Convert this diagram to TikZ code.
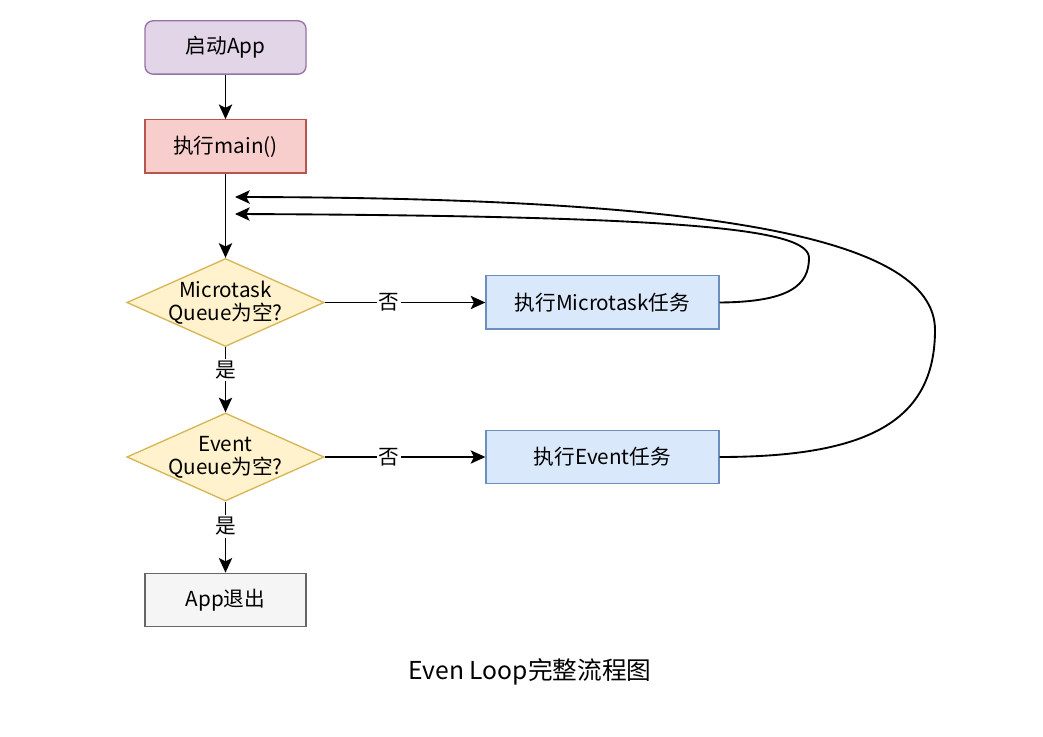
\documentclass[tikz,border=0pt]{standalone}
\usepackage{fontspec}
\setmainfont{Noto Sans CJK SC}
\usetikzlibrary{shapes.geometric,arrows.meta}
\definecolor{purF}{HTML}{E1D5E7}\definecolor{purD}{HTML}{9673A6}
\definecolor{redF}{HTML}{F8CECC}\definecolor{redD}{HTML}{B85450}
\definecolor{yelF}{HTML}{FFF2CC}\definecolor{yelD}{HTML}{D6B656}
\definecolor{bluF}{HTML}{DAE8FC}\definecolor{bluD}{HTML}{6C8EBF}
\definecolor{gryF}{HTML}{F5F5F5}\definecolor{gryD}{HTML}{666666}
\begin{document}
\begin{tikzpicture}[x=0.75pt,y=-0.75pt,
  box/.style={draw,line width=1pt,minimum width=120.75pt,minimum height=40pt,inner sep=0pt,font=\fontsize{15.5}{17}\selectfont,align=center},
  dec/.style={diamond,draw,line width=1pt,fill=yelF,draw=yelD,minimum width=148pt,minimum height=66pt,inner sep=0pt,aspect=2.2},
  dtext/.style={font=\fontsize{15.5}{17}\selectfont,align=center,inner sep=0pt},
  arr/.style={-{Stealth[length=11pt,width=10pt,inset=2.5pt]},line width=1.4pt},
  lbl/.style={fill=white,inner sep=1.5pt,font=\fontsize{15.5}{17}\selectfont}]
\useasboundingbox (0,0) rectangle (1043,737);
\fill[white] (0,0) rectangle (1043,737);
\node[box,rounded corners=6pt,fill=purF,draw=purD] (start) at (225.5,47.5) {启动App};
\node[box,fill=redF,draw=redD] (main) at (225.5,146.5) {执行main()};
\node[dec] (d1) at (225.5,302.5) {};
\node[dtext] (d1t) at (d1) {Microtask\\Queue为空?};
\node[box,fill=bluF,draw=bluD,minimum width=174.75pt] (mt) at (602.5,302.5) {执行Microtask任务};
\node[dec] (d2) at (225.5,457) {};
\node[dtext] (d2t) at (d2) {Event\\Queue为空?};
\node[box,fill=bluF,draw=bluD,minimum width=174.75pt] (ev) at (602.5,457) {执行Event任务};
\node[box,fill=gryF,draw=gryD] (exit) at (225.5,600) {App退出};
\node[font=\fontsize{18.5}{20}\selectfont] (cap) at (530,672) {Even Loop完整流程图};
\coordinate (in1) at (235,214);
\coordinate (in2) at (235,197);
\draw[arr] (start) -- (main);
\draw[arr] (main) -- (d1);
\draw[arr] (d1) -- node[lbl,pos=0.4]{否} (mt);
\draw[arr] (d1) -- node[lbl,pos=0.35]{是} (d2);
\draw[arr] (d2) -- node[lbl,pos=0.4]{否} (ev);
\draw[arr] (d2) -- node[lbl,pos=0.35]{是} (exit);
\draw[arr] (mt.east) .. controls (790,302) and (809,285) .. (809,258) .. controls (809,230) and (700,216) .. (in1);
\draw[arr] (ev.east) .. controls (870,457) and (935,420) .. (935,330) .. controls (935,235) and (700,198) .. (in2);
\end{tikzpicture}
\end{document}
